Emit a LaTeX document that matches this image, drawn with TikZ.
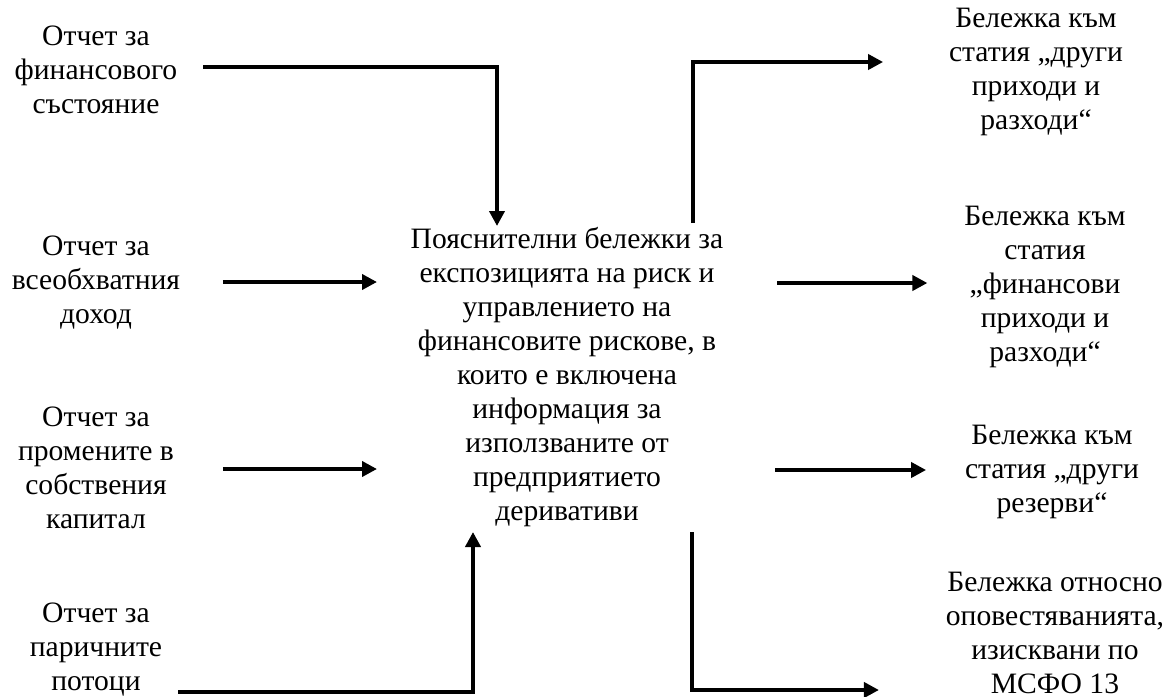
\documentclass[tikz,border=0pt]{standalone}
\usepackage{fontspec}
\setmainfont{Liberation Serif}
\usetikzlibrary{arrows.meta,positioning}
\begin{document}
\begin{tikzpicture}[x=0.5pt,y=-0.5pt,line width=1.9pt,>={Triangle[length=7.5pt,width=7.5pt]}]
\tikzset{txt/.style={align=center,inner sep=0pt,font=\fontsize{14.8}{17}\selectfont}}
\useasboundingbox (0,0) rectangle (1164,697);
% left column
\node[txt] (fin) at (96,70) {Отчет за\\финансового\\състояние};
\node[txt] (inc) at (96,283) {Отчет за\\всеобхватния\\доход};
\node[txt] (eq) at (96,468) {Отчет за\\промените в\\собствения\\капитал};
\node[txt] (cash) at (96,650) {Отчет за\\паричните\\потоци};
% middle
\node[txt] (note) at (567,377) {Пояснителни бележки за\\експозицията на риск и\\управлението на\\финансовите рискове, в\\които е включена\\информация за\\използваните от\\предприятието\\деривативи};
% right column
\node[txt] (oth) at (1036,72) {Бележка към\\статия „други\\приходи и\\разходи“};
\node[txt] (fn) at (1045,287) {Бележка към\\статия\\„финансови\\приходи и\\разходи“};
\node[txt] (res) at (1052,472) {Бележка към\\статия „други\\резерви“};
\node[txt] (ifrs) at (1055,633) {Бележка относно\\оповестяванията,\\изисквани по\\МСФО 13};
% ports of the middle text
\coordinate (inA) at (497,226);
\coordinate (inB) at (377,282);
\coordinate (inC) at (377,469);
\coordinate (inD) at (473,532);
\coordinate (outA) at (693,223);
\coordinate (outB) at (777,283);
\coordinate (outC) at (775,470);
\coordinate (outD) at (692,532);
% arrows
\draw[->] (fin.east) ++(24,-3) -| (inA);
\draw[->] (inc.east) ++(41,-1) -- (inB);
\draw[->] (eq.east) ++(47,1) -- (inC);
\draw[->] (cash.east) ++(14,42) -| (inD);
\draw[->] (outA) |- ([xshift=-32pt]oth.west |- 0,62);
\draw[->] (outB) -- ([xshift=-17.5pt]fn.west |- outB);
\draw[->] (outC) -- ([xshift=-18.5pt]res.west |- outC);
\draw[->] (outD) |- ([xshift=-32.5pt]ifrs.west |- 0,690);
\end{tikzpicture}
\end{document}
